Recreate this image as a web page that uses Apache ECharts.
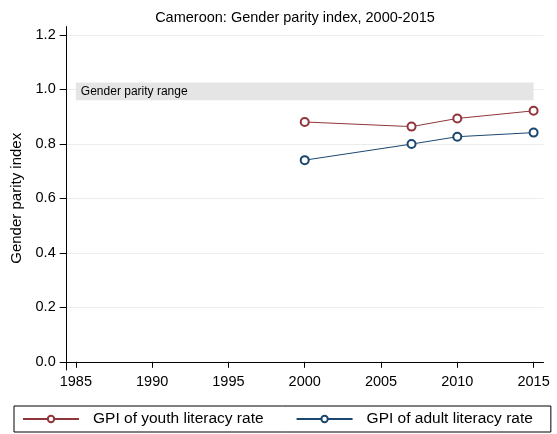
<!DOCTYPE html>
<html><head><meta charset="utf-8">
<script src="https://cdn.jsdelivr.net/npm/echarts@6/dist/echarts.min.js"></script>
<style>html,body{margin:0;padding:0;background:#fff}#c{width:557px;height:434px}</style>
</head><body><div id="c"></div>
<script>
const years = [2000, 2007, 2010, 2015];
const youthGPI = [0.880, 0.863, 0.893, 0.921];
const adultGPI = [0.740, 0.799, 0.826, 0.841];
const xTicks = [1985, 1990, 1995, 2000, 2005, 2010, 2015];
const yTicks = [0, 0.2, 0.4, 0.6, 0.8, 1.0, 1.2];
const parityRange = [0.96, 1.025];
const parityX = [1985, 2015];

const font = 'Liberation Sans';
const chart = echarts.init(document.getElementById('c'));
chart.setOption({
  animation: false,
  title: {text: 'Cameroon: Gender parity index, 2000-2015', left: 290, top: 5, textAlign: 'center',
    textStyle: {fontFamily: font, fontSize: 14.5, fontWeight: 'normal', color: '#000'}},
  grid: {left: 66.7, right: 13.5, top: 26.6, bottom: 64},
  xAxis: {type: 'value', min: 1984.4, max: 2015.65,
    axisLine: {lineStyle: {color: '#000', width: 1}},
    axisTick: {show: true, length: 6, customValues: xTicks, lineStyle: {color: '#000'}},
    axisLabel: {customValues: xTicks, fontFamily: font, fontSize: 14.5, color: '#000', margin: 4,
      formatter: v => String(v)},
    splitLine: {show: false}},
  yAxis: {type: 'value', min: -0.03, max: 1.23,
    name: 'Gender parity index', nameLocation: 'middle', nameGap: 40, nameRotate: 90,
    nameTextStyle: {fontFamily: font, fontSize: 15, color: '#000'},
    axisLine: {show: true, lineStyle: {color: '#000', width: 1}},
    axisTick: {show: true, length: 7, customValues: yTicks, lineStyle: {color: '#000'}},
    axisLabel: {customValues: yTicks, fontFamily: font, fontSize: 14.5, color: '#000', margin: 11,
      formatter: v => v.toFixed(1)},
    splitLine: {show: true, lineStyle: {color: '#ececec', width: 1}}},
  legend: {bottom: 2, left: 14, itemWidth: 56, itemHeight: 8, itemGap: 32,
    padding: [5, 18, 5, 8], borderColor: '#000', borderWidth: 1,
    textStyle: {fontFamily: font, fontSize: 15.5, color: '#000', padding: [0, 0, 0, 9]},
    data: ['GPI of youth literacy rate', 'GPI of adult literacy rate']},
  series: [
    {name: 'GPI of youth literacy rate', type: 'line', data: years.map((y, i) => [y, youthGPI[i]]),
      symbol: 'emptyCircle', symbolSize: 8, lineStyle: {color: '#90353b', width: 1},
      itemStyle: {color: '#90353b', borderWidth: 1},
      markArea: {silent: true, itemStyle: {color: '#e5e5e5'},
        label: {show: true, position: 'insideLeft', fontFamily: font, fontSize: 12, color: '#000'},
        data: [[{name: 'Gender parity range', xAxis: parityX[0], yAxis: parityRange[0]},
                {xAxis: parityX[1], yAxis: parityRange[1]}]]}},
    {name: 'GPI of adult literacy rate', type: 'line', data: years.map((y, i) => [y, adultGPI[i]]),
      symbol: 'emptyCircle', symbolSize: 8, lineStyle: {color: '#1a476f', width: 1},
      itemStyle: {color: '#1a476f', borderWidth: 1}}
  ]
});
</script></body></html>
